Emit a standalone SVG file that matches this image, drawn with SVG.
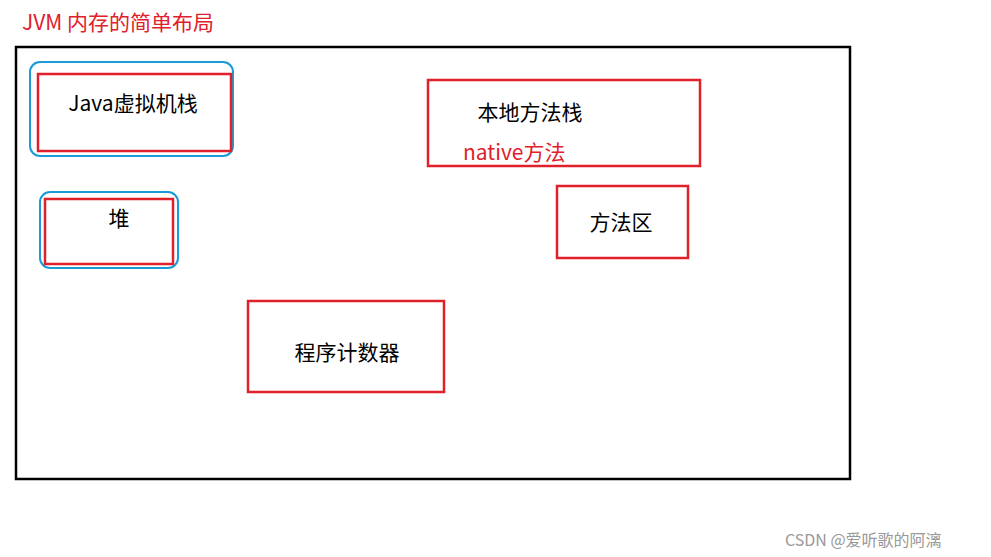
<svg xmlns="http://www.w3.org/2000/svg" width="991" height="557" viewBox="0 0 991 557">
<style>
.t{font-family:"Microsoft YaHei","Noto Sans CJK SC",sans-serif;font-size:21px;fill:#000}
.r{fill:none;stroke:#e0202a;stroke-width:2.5}
.b{fill:none;stroke:#1a9ad6;stroke-width:2}
</style>
<rect width="991" height="557" fill="#fff"/>
<text x="22" y="30" class="t" style="fill:#e0202a;font-size:21px">JVM 内存的简单布局</text>
<rect x="16" y="47" width="834" height="432" fill="none" stroke="#000" stroke-width="2.5"/>
<g id="jvmstack">
<rect class="b" x="30" y="62" width="203" height="94" rx="10"/>
<rect class="r" x="38" y="74" width="193" height="77"/>
<text class="t" x="133" y="111" text-anchor="middle">Java虚拟机栈</text>
</g>
<g id="native">
<rect class="r" x="428" y="80" width="272" height="86"/>
<text class="t" x="530" y="120" text-anchor="middle">本地方法栈</text>
<text class="t" x="463" y="160" style="fill:#e0202a">native方法</text>
</g>
<g id="heap">
<rect class="b" x="40" y="192" width="138" height="76" rx="10"/>
<rect class="r" x="45" y="199" width="128" height="65"/>
<text class="t" x="119" y="226" text-anchor="middle">堆</text>
</g>
<g id="method">
<rect class="r" x="557" y="186" width="131" height="72"/>
<text class="t" x="621" y="230" text-anchor="middle">方法区</text>
</g>
<g id="pc">
<rect class="r" x="248" y="301" width="196" height="91"/>
<text class="t" x="347" y="360" text-anchor="middle">程序计数器</text>
</g>
<g id="connectors"/>
<text x="785" y="546" style="font-family:'Noto Sans CJK SC',sans-serif;font-size:16px;fill:#999">CSDN @爱听歌的阿漓</text>
</svg>
